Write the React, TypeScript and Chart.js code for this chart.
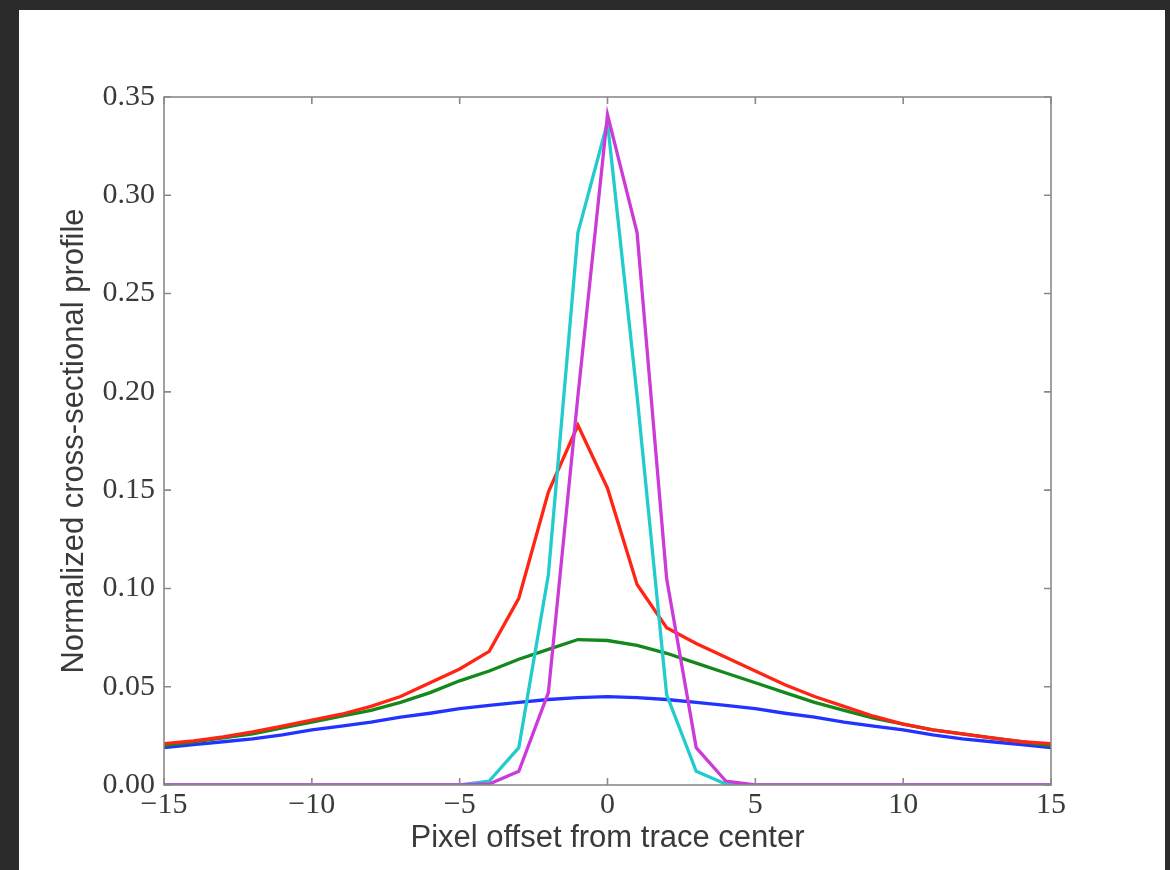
import React, { useEffect, useRef } from "react";
import { Chart, registerables } from "chart.js";

Chart.register(...registerables);

const offsets = [-15, -14, -13, -12, -11, -10, -9, -8, -7, -6, -5, -4, -3, -2, -1, 0, 1, 2, 3, 4, 5, 6, 7, 8, 9, 10, 11, 12, 13, 14, 15];

const blueProfile = [0.019, 0.0205, 0.022, 0.0235, 0.0255, 0.028, 0.03, 0.032, 0.0345, 0.0365, 0.0388, 0.0405, 0.042, 0.0435, 0.0445, 0.045, 0.0445, 0.0435, 0.042, 0.0405, 0.0388, 0.0365, 0.0345, 0.032, 0.03, 0.028, 0.0255, 0.0235, 0.022, 0.0205, 0.019];

const greenProfile = [0.02, 0.022, 0.024, 0.026, 0.029, 0.032, 0.035, 0.038, 0.042, 0.047, 0.053, 0.058, 0.064, 0.069, 0.074, 0.0735, 0.071, 0.067, 0.062, 0.057, 0.052, 0.047, 0.042, 0.038, 0.034, 0.031, 0.028, 0.026, 0.024, 0.022, 0.02];

const redProfile = [0.021, 0.0225, 0.0245, 0.027, 0.03, 0.033, 0.036, 0.04, 0.045, 0.052, 0.059, 0.068, 0.095, 0.149, 0.183, 0.151, 0.102, 0.08, 0.072, 0.065, 0.058, 0.051, 0.045, 0.04, 0.035, 0.031, 0.028, 0.026, 0.024, 0.022, 0.021];

const cyanProfile = [0, 0, 0, 0, 0, 0, 0, 0, 0, 0, 0, 0.002, 0.019, 0.107, 0.281, 0.337, 0.198, 0.046, 0.007, 0.0005, 0, 0, 0, 0, 0, 0, 0, 0, 0, 0, 0];

const magentaProfile = [0, 0, 0, 0, 0, 0, 0, 0, 0, 0, 0, 0.0005, 0.007, 0.047, 0.198, 0.341, 0.281, 0.105, 0.019, 0.002, 0, 0, 0, 0, 0, 0, 0, 0, 0, 0, 0];

const xTitle = "Pixel offset from trace center";
const yTitle = "Normalized cross-sectional profile";

const AXIS_COLOR = "#8a8a8a";
const TEXT_COLOR = "#3a3a3a";

const frameTicks = {
  id: "frameTicks",
  afterDatasetsDraw(chart: any) {
    const { ctx, chartArea, scales } = chart;
    const { left, right, top, bottom } = chartArea;
    const tl = 7;
    ctx.save();
    ctx.strokeStyle = AXIS_COLOR;
    ctx.lineWidth = 1.6;
    ctx.strokeRect(left, top, right - left, bottom - top);
    ctx.beginPath();
    scales.x.ticks.forEach((t: any) => {
      const px = scales.x.getPixelForValue(t.value);
      ctx.moveTo(px, bottom);
      ctx.lineTo(px, bottom - tl);
      ctx.moveTo(px, top);
      ctx.lineTo(px, top + tl);
    });
    scales.y.ticks.forEach((t: any) => {
      const py = scales.y.getPixelForValue(t.value);
      ctx.moveTo(left, py);
      ctx.lineTo(left + tl, py);
      ctx.moveTo(right, py);
      ctx.lineTo(right - tl, py);
    });
    ctx.stroke();
    ctx.restore();
  },
};

function makeSet(label: string, data: number[], color: string, order: number) {
  return {
    label,
    data: offsets.map((x, i) => ({ x, y: data[i] })),
    borderColor: color,
    backgroundColor: color,
    borderWidth: 3.3,
    pointRadius: 0,
    tension: 0,
    fill: false,
    order,
  };
}

export default function App() {
  const ref = useRef<HTMLCanvasElement | null>(null);

  useEffect(() => {
    if (!ref.current) return;
    const chart = new Chart(ref.current, {
      type: "line",
      data: {
        datasets: [
          makeSet("blue", blueProfile, "#2233ff", 5),
          makeSet("green", greenProfile, "#12891a", 4),
          makeSet("red", redProfile, "#ff2414", 3),
          makeSet("cyan", cyanProfile, "#22cccc", 2),
          makeSet("magenta", magentaProfile, "#cc3ad8", 1),
        ],
      },
      options: {
        animation: false,
        responsive: false,
        maintainAspectRatio: false,
        layout: { padding: { left: 28, top: 87, right: 114, bottom: 8 } },
        plugins: { legend: { display: false }, tooltip: { enabled: false } },
        scales: {
          x: {
            type: "linear",
            min: -15,
            max: 15,
            afterFit: (s: any) => {
              s.height = 77;
            },
            grid: { display: false, drawTicks: false },
            border: { display: false },
            ticks: {
              stepSize: 5,
              autoSkip: false,
              maxRotation: 0,
              padding: 2,
              color: TEXT_COLOR,
              font: { family: "'Liberation Serif', serif", size: 30 },
              callback: (v: any) => {
                const n = Number(v);
                return n < 0 ? "\u2212" + Math.abs(n) : String(n);
              },
            },
            title: {
              display: true,
              text: xTitle,
              color: TEXT_COLOR,
              padding: { top: 0, bottom: 5 },
              font: { family: "'Liberation Sans', Arial, sans-serif", size: 31 },
            },
          },
          y: {
            type: "linear",
            min: 0,
            max: 0.35,
            afterFit: (s: any) => {
              s.width = 117;
            },
            grid: { display: false, drawTicks: false },
            border: { display: false },
            ticks: {
              stepSize: 0.05,
              padding: 9,
              color: TEXT_COLOR,
              font: { family: "'Liberation Serif', serif", size: 30 },
              callback: (v: any) => Number(v).toFixed(2),
            },
            title: {
              display: true,
              text: yTitle,
              color: TEXT_COLOR,
              padding: { top: 9, bottom: 0 },
              font: { family: "'Liberation Sans', Arial, sans-serif", size: 31 },
            },
          },
        },
      },
      plugins: [frameTicks],
    });
    return () => chart.destroy();
  }, []);

  return (
    <div style={{ position: "fixed", left: 0, top: 0, width: 1170, height: 870, background: "#2b2b2b", overflow: "hidden" }}>
      <div style={{ position: "absolute", left: 19, top: 10, width: 1146, height: 860, background: "#ffffff" }}>
        <canvas ref={ref} width={1146} height={860} style={{ display: "block", width: 1146, height: 860 }} />
      </div>
    </div>
  );
}
